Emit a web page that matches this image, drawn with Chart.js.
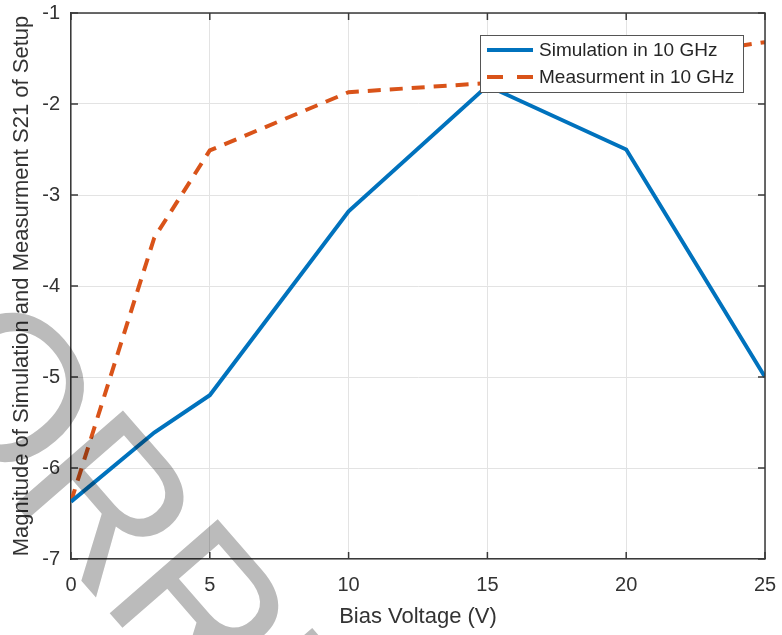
<!DOCTYPE html>
<html>
<head>
<meta charset="utf-8">
<script src="https://cdn.jsdelivr.net/npm/chart.js@4.4.0/dist/chart.umd.min.js"></script>
<style>
  html, body { margin: 0; padding: 0; background: #fff; }
  #wrap { width: 782px; height: 635px; }
</style>
</head>
<body>
<div id="wrap"><canvas id="myChart" width="782" height="635"></canvas></div>
<script>
// bias voltage (V) and S21 magnitude
var simVolts = [0, 3, 5, 10, 15, 20, 25];
var simulation = [-6.37, -5.61, -5.2, -3.18, -1.8, -2.5, -5.0];
var measVolts = [0, 3, 5, 10, 15, 25];
var measurement = [-6.37, -3.47, -2.51, -1.87, -1.77, -1.32];

var xTicks = [0, 5, 10, 15, 20, 25];
var yTicks = [-7, -6, -5, -4, -3, -2, -1];
var legendLabels = ['Simulation in 10 GHz', 'Measurment in 10 GHz'];
var watermarkText = 'CORRECTED PROOF';

var FONT = "'Liberation Sans', Arial, Helvetica, sans-serif";
var BLUE = '#0072BD';
var ORANGE = '#D95319';
var AXIS = '#3a3a3a';

function toPoints(xs, ys) {
  return xs.map(function (x, i) {
    return { x: x, y: ys[i] };
  });
}

// box on + inward ticks, like matlab
var boxPlugin = {
  id: 'box',
  afterDatasetsDraw: function (chart) {
    var ctx = chart.ctx;
    var a = chart.chartArea;
    var sx = chart.scales.x, sy = chart.scales.y;
    var tl = 7;
    ctx.save();
    ctx.strokeStyle = AXIS;
    ctx.lineWidth = 1.5;
    ctx.beginPath();
    ctx.moveTo(a.left, a.top);
    ctx.lineTo(a.right, a.top);
    ctx.lineTo(a.right, a.bottom);
    ctx.stroke();
    ctx.beginPath();
    xTicks.forEach(function (v) {
      var px = sx.getPixelForValue(v);
      ctx.moveTo(px, a.bottom); ctx.lineTo(px, a.bottom - tl);
      ctx.moveTo(px, a.top); ctx.lineTo(px, a.top + tl);
    });
    yTicks.forEach(function (v) {
      var py = sy.getPixelForValue(v);
      ctx.moveTo(a.left, py); ctx.lineTo(a.left + tl, py);
      ctx.moveTo(a.right, py); ctx.lineTo(a.right - tl, py);
    });
    ctx.stroke();
    ctx.restore();
  }
};

var legendPlugin = {
  id: 'boxLegend',
  afterDraw: function (chart) {
    var ctx = chart.ctx;
    var left = 480, top = 35, w = 263, h = 57;
    ctx.save();
    ctx.fillStyle = '#fff';
    ctx.fillRect(left, top, w, h);
    ctx.strokeStyle = '#555';
    ctx.lineWidth = 1;
    ctx.strokeRect(left + 0.5, top + 0.5, w, h);

    var rows = [50, 77];
    var colors = [BLUE, ORANGE];
    var dashes = [[], [16, 14]];
    ctx.lineWidth = 4;
    rows.forEach(function (y, i) {
      ctx.strokeStyle = colors[i];
      ctx.setLineDash(dashes[i]);
      ctx.beginPath();
      ctx.moveTo(487, y);
      ctx.lineTo(533, y);
      ctx.stroke();
    });
    ctx.setLineDash([]);
    ctx.fillStyle = '#262626';
    ctx.font = '19px ' + FONT;
    ctx.textBaseline = 'middle';
    ctx.textAlign = 'left';
    rows.forEach(function (y, i) {
      ctx.fillText(legendLabels[i], 539, y + 1);
    });
    ctx.restore();
  }
};

var watermarkPlugin = {
  id: 'watermark',
  afterDraw: function (chart) {
    var ctx = chart.ctx;
    ctx.save();
    ctx.globalCompositeOperation = 'multiply';
    ctx.translate(-193, 265);
    ctx.rotate(49 * Math.PI / 180);
    ctx.fillStyle = '#bbbbbb';
    ctx.font = '208px ' + FONT;
    ctx.letterSpacing = '-6px';
    ctx.textBaseline = 'alphabetic';
    ctx.fillText(watermarkText, 0, 0);
    ctx.restore();
  }
};

var chartData = {
  datasets: [
    {
      label: legendLabels[0],
      data: toPoints(simVolts, simulation),
      borderColor: BLUE,
      borderWidth: 4,
      fill: false,
      tension: 0
    },
    {
      label: legendLabels[1],
      data: toPoints(measVolts, measurement),
      borderColor: ORANGE,
      borderWidth: 4,
      borderDash: [13, 9],
      fill: false,
      tension: 0
    }
  ]
};

var chart = document.getElementById('myChart').getContext('2d');
var myChart = new Chart(chart, {
  type: 'line',
  data: chartData,
  plugins: [boxPlugin, legendPlugin, watermarkPlugin],
  options: {
    responsive: false,
    animation: false,
    layout: {
      padding: { left: 0, right: 17, top: 13, bottom: 0 }
    },
    elements: {
      point: { radius: 0 }
    },
    scales: {
      x: {
        type: 'linear',
        min: 0,
        max: 25,
        afterBuildTicks: function (scale) {
          scale.ticks = xTicks.map(function (v) { return { value: v }; });
        },
        afterFit: function (scale) {
          scale.height = 76;
          scale.paddingLeft = 0;
          scale.paddingRight = 0;
        },
        grid: { color: '#e3e3e3', drawTicks: false },
        border: { display: true, color: AXIS, width: 1.5 },
        ticks: {
          color: '#333',
          padding: 14,
          maxRotation: 0,
          font: { family: FONT, size: 20 }
        },
        title: {
          display: true,
          text: 'Bias Voltage (V)',
          color: '#333',
          padding: { top: 0, bottom: 5 },
          font: { family: FONT, size: 22 }
        }
      },
      y: {
        type: 'linear',
        min: -7,
        max: -1,
        afterBuildTicks: function (scale) {
          scale.ticks = yTicks.map(function (v) { return { value: v }; });
        },
        afterFit: function (scale) {
          scale.width = 71;
          scale.paddingTop = 0;
          scale.paddingBottom = 0;
        },
        grid: { color: '#e3e3e3', drawTicks: false },
        border: { display: true, color: AXIS, width: 1.5 },
        ticks: {
          color: '#333',
          padding: 11,
          font: { family: FONT, size: 20 }
        },
        title: {
          display: true,
          text: 'Magnitude of Simulation and Measurment S21 of Setup',
          color: '#333',
          padding: { top: 9, bottom: 0 },
          font: { family: FONT, size: 22 }
        }
      }
    },
    plugins: {
      legend: { display: false },
      tooltip: { enabled: false }
    }
  }
});
</script>
</body>
</html>
